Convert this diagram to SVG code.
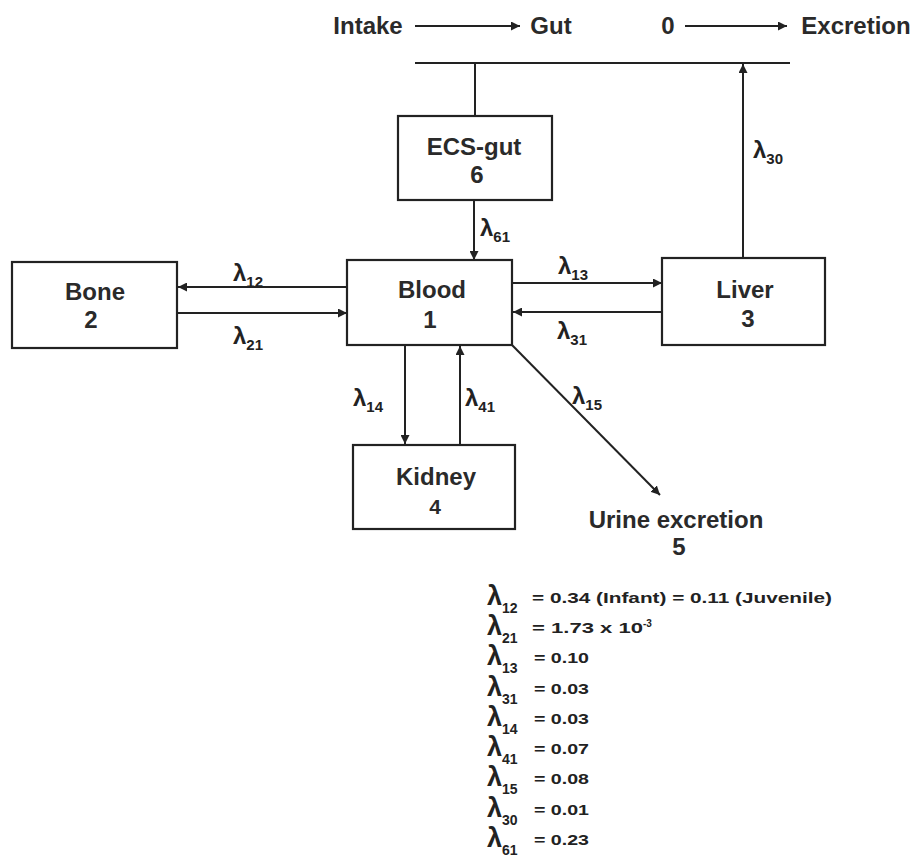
<svg xmlns="http://www.w3.org/2000/svg" width="913" height="861" viewBox="0 0 913 861">
<style>
.box{fill:#fff;stroke:#222;stroke-width:2.2}
.ln{stroke:#222;stroke-width:2;fill:none}
.lbl{font-family:"Liberation Sans",Arial,sans-serif;font-weight:bold;font-size:24px;fill:#2a2a2a;text-anchor:middle}
.lam{font-family:"Liberation Sans",Arial,sans-serif;font-weight:bold;font-size:24px;fill:#222}
.sub{font-size:15px}
.glam{font-family:"Liberation Sans",Arial,sans-serif;font-weight:bold;font-size:27px;fill:#222}
.gsub{font-size:14px}
.leg{font-family:"Liberation Sans",Arial,sans-serif;font-weight:bold;font-size:14px;fill:#222}
</style>
<defs>
<marker id="ah" viewBox="0 0 10 10" refX="10" refY="5" markerWidth="4.5" markerHeight="4.5" orient="auto" markerUnits="strokeWidth">
<path d="M0,0 L10,5 L0,10 z" fill="#222"/>
</marker>
</defs>
<rect width="913" height="861" fill="#fff"/>

<g id="top">
<text class="lbl" x="368" y="34">Intake</text>
<text class="lbl" x="551" y="34">Gut</text>
<text class="lbl" x="668" y="34">0</text>
<text class="lbl" x="856" y="34">Excretion</text>
</g>

<g id="connectors">
<line class="ln" x1="415" y1="26" x2="520" y2="26" marker-end="url(#ah)"/>
<line class="ln" x1="685" y1="26" x2="787" y2="26" marker-end="url(#ah)"/>
<line class="ln" x1="415" y1="63" x2="790" y2="63"/>
<line class="ln" x1="475" y1="63" x2="475" y2="116"/>
<line class="ln" x1="474" y1="200" x2="474" y2="260" marker-end="url(#ah)"/>
<line class="ln" x1="347" y1="287" x2="178" y2="287" marker-end="url(#ah)"/>
<line class="ln" x1="177" y1="313" x2="347" y2="313" marker-end="url(#ah)"/>
<line class="ln" x1="512" y1="283" x2="662" y2="283" marker-end="url(#ah)"/>
<line class="ln" x1="662" y1="312" x2="513" y2="312" marker-end="url(#ah)"/>
<line class="ln" x1="743" y1="258" x2="743" y2="64" marker-end="url(#ah)"/>
<line class="ln" x1="405" y1="345" x2="405" y2="444" marker-end="url(#ah)"/>
<line class="ln" x1="460" y1="445" x2="460" y2="346" marker-end="url(#ah)"/>
<line class="ln" x1="512" y1="345" x2="660" y2="495" marker-end="url(#ah)"/>
</g>

<g id="edge-labels">
<text class="lam" x="480" y="236">λ<tspan class="sub" dy="6">61</tspan></text>
<text class="lam" x="233" y="281">λ<tspan class="sub" dy="6">12</tspan></text>
<text class="lam" x="233" y="344">λ<tspan class="sub" dy="6">21</tspan></text>
<text class="lam" x="558" y="274">λ<tspan class="sub" dy="6">13</tspan></text>
<text class="lam" x="557" y="339">λ<tspan class="sub" dy="6">31</tspan></text>
<text class="lam" x="753" y="158">λ<tspan class="sub" dy="6">30</tspan></text>
<text class="lam" x="353" y="406">λ<tspan class="sub" dy="6">14</tspan></text>
<text class="lam" x="465" y="406">λ<tspan class="sub" dy="6">41</tspan></text>
<text class="lam" x="572" y="404">λ<tspan class="sub" dy="6">15</tspan></text>
</g>

<g id="node-ecs">
<rect class="box" x="398" y="116" width="154" height="84"/>
<text class="lbl" x="474" y="155">ECS-gut</text>
<text class="lbl" x="477" y="183">6</text>
</g>
<g id="node-blood">
<rect class="box" x="347" y="260" width="165" height="85"/>
<text class="lbl" x="432" y="298">Blood</text>
<text class="lbl" x="430" y="328">1</text>
</g>
<g id="node-bone">
<rect class="box" x="12" y="262" width="165" height="86"/>
<text class="lbl" x="95" y="300">Bone</text>
<text class="lbl" x="91" y="328">2</text>
</g>
<g id="node-liver">
<rect class="box" x="662" y="258" width="163" height="87"/>
<text class="lbl" x="745" y="298">Liver</text>
<text class="lbl" x="748" y="327">3</text>
</g>
<g id="node-kidney">
<rect class="box" x="353" y="445" width="162" height="84"/>
<text class="lbl" x="436" y="485">Kidney</text>
<text class="lbl" style="font-size:21px" x="435" y="514">4</text>
</g>
<g id="node-urine">
<text class="lbl" x="676" y="528">Urine excretion</text>
<text class="lbl" x="679" y="555">5</text>
</g>

<g id="legend">
<text class="glam" x="487" y="605">λ<tspan class="gsub" dy="8">12</tspan></text>
<text class="leg" x="532" y="603" textLength="300" lengthAdjust="spacingAndGlyphs">= 0.34 (Infant) = 0.11 (Juvenile)</text>
<text class="glam" x="487" y="635">λ<tspan class="gsub" dy="8">21</tspan></text>
<text class="leg" x="532" y="633"><tspan textLength="111" lengthAdjust="spacingAndGlyphs">= 1.73 x 10</tspan><tspan dy="-6" style="font-size:10px">-3</tspan></text>
<text class="glam" x="487" y="665">λ<tspan class="gsub" dy="8">13</tspan></text>
<text class="leg" x="534" y="663" textLength="55" lengthAdjust="spacingAndGlyphs">= 0.10</text>
<text class="glam" x="487" y="696">λ<tspan class="gsub" dy="8">31</tspan></text>
<text class="leg" x="534" y="694" textLength="55" lengthAdjust="spacingAndGlyphs">= 0.03</text>
<text class="glam" x="487" y="726">λ<tspan class="gsub" dy="8">14</tspan></text>
<text class="leg" x="534" y="724" textLength="55" lengthAdjust="spacingAndGlyphs">= 0.03</text>
<text class="glam" x="487" y="756">λ<tspan class="gsub" dy="8">41</tspan></text>
<text class="leg" x="534" y="754" textLength="55" lengthAdjust="spacingAndGlyphs">= 0.07</text>
<text class="glam" x="487" y="786">λ<tspan class="gsub" dy="8">15</tspan></text>
<text class="leg" x="534" y="784" textLength="55" lengthAdjust="spacingAndGlyphs">= 0.08</text>
<text class="glam" x="487" y="817">λ<tspan class="gsub" dy="8">30</tspan></text>
<text class="leg" x="534" y="815" textLength="55" lengthAdjust="spacingAndGlyphs">= 0.01</text>
<text class="glam" x="487" y="847">λ<tspan class="gsub" dy="8">61</tspan></text>
<text class="leg" x="534" y="845" textLength="55" lengthAdjust="spacingAndGlyphs">= 0.23</text>
</g>
</svg>
